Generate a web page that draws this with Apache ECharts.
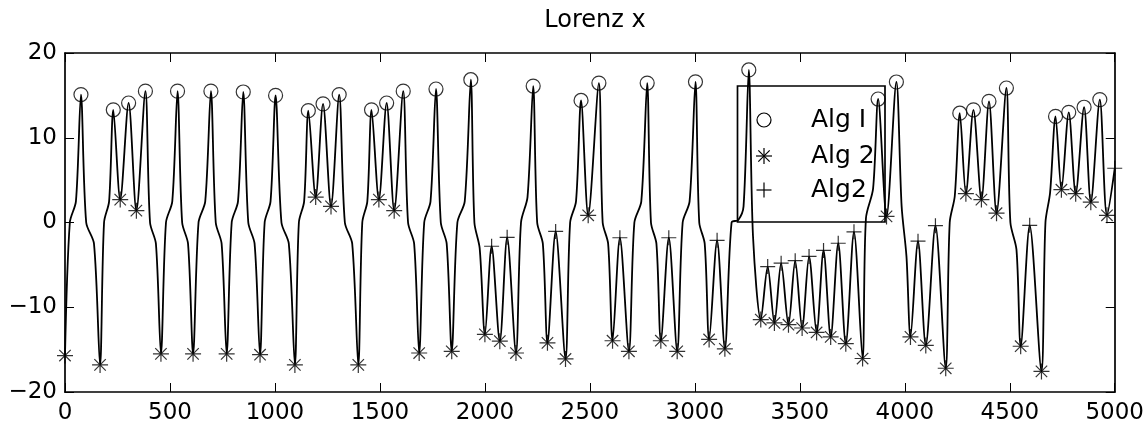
<!DOCTYPE html>
<html>
<head>
<meta charset="utf-8">
<script src="https://cdn.jsdelivr.net/npm/echarts@6/dist/echarts.min.js"></script>
<style>
html,body{margin:0;padding:0;background:#fff;}
#c{width:1147px;height:429px;}
</style>
</head>
<body>
<div id="c"></div>
<script>
// ---- data ----
const titleText = 'Lorenz x';
const xTicks = [0, 500, 1000, 1500, 2000, 2500, 3000, 3500, 4000, 4500, 5000];
const yTicks = [-20, -10, 0, 10, 20];
const legendNames = ['Alg I', 'Alg 2', 'Alg2'];

// local maxima marked with circles (Alg I)
const alg1 = [[76,15.1],[230,13.3],[303,14.1],[383,15.5],[536,15.5],[695,15.5],[849,15.4],[1003,15.0],
  [1159,13.2],[1229,14.0],[1306,15.1],[1460,13.3],[1532,14.1],[1611,15.5],[1767,15.75],[1933,16.85],
  [2230,16.1],[2458,14.4],[2543,16.45],[2773,16.45],[3003,16.6],[3257,18.0],[3873,14.57],[3960,16.58],
  [4262,12.9],[4327,13.3],[4401,14.3],[4484,15.87],[4718,12.52],[4781,13.0],[4854,13.6],[4929,14.5]];

// local minima marked with asterisks (Alg 2)
const alg2 = [[0,-15.7],[167,-16.8],[263,2.7],[340,1.4],[457,-15.5],[610,-15.5],[770,-15.5],[929,-15.6],
  [1095,-16.8],[1194,3.0],[1267,1.9],[1397,-16.8],[1495,2.7],[1568,1.4],[1687,-15.4],[1842,-15.2],
  [2000,-13.2],[2071,-14.0],[2148,-15.4],[2298,-14.2],[2384,-16.1],[2492,0.85],[2608,-13.95],[2686,-15.2],
  [2838,-13.95],[2916,-15.2],[3068,-13.8],[3143,-14.9],[3314,-11.45],[3379,-11.85],[3446,-12.06],[3511,-12.45],
  [3580,-12.97],[3647,-13.5],[3719,-14.3],[3799,-16.05],[3913,0.72],[4027,-13.5],[4100,-14.5],[4195,-17.2],
  [4291,3.4],[4365,2.7],[4437,1.1],[4552,-14.6],[4651,-17.57],[4746,3.87],[4814,3.4],[4886,2.4],[4963,0.85]];

// local maxima marked with plus signs (Alg2)
const alg2b = [[2032,-2.8],[2106,-1.75],[2337,-1.05],[2643,-1.8],[2876,-1.8],[3106,-2.1],[3347,-5.2],
  [3411,-4.8],[3478,-4.5],[3544,-4.0],[3613,-3.3],[3683,-2.45],[3758,-1.1],[4063,-2.2],[4146,-0.38],
  [4595,-0.33],[5000,6.4]];

// intermediate points of the curve (shoulders near zero between the spikes)
const shoulders = [[23,0],[52,2.5],[101,0],[138,-2.5],[186,0],[210,2.5],[405,0],[433,-2.5],[481,0],[511,2.5],
  [558,0],[586,-2.5],[636,0],[668,2.5],[718,0],[746,-2.5],[794,0],[824,2.5],[873,0],[903,-2.5],
  [951,0],[979,2.5],[1031,0],[1066,-2.5],[1114,0],[1139,2.5],[1333,0],[1368,-2.5],[1416,0],[1440,2.5],
  [1634,0],[1663,-2.5],[1711,0],[1741,2.5],[1790,0],[1818,-2.5],[1869,0],[1904,2.5],[1950,0],[1975,-3],
  [2172,0],[2203,3],[2249,0],[2276,-2.5],[2406,0],[2434,2.5],[2561,0],[2587,-2.5],[2712,0],[2745,2.5],
  [2791,0],[2817,-2.5],[2942,0],[2975,2.5],[3021,0],[3047,-2.5],[3175,0],[3207,0.3],[3232,1.9],[3277,-1.6],
  [3815,0.5],[3849,4],[3985,1.9],[4008,-4],[4214,0],[4238,3.1],[4503,0],[4532,-3.2],[4670,0],[4692,3.5]];

// ---- build ----
const curve = alg1.concat(alg2, alg2b, shoulders).slice().sort((a, b) => a[0] - b[0]);

const FONT = 'DejaVu Sans';
const starPath = 'path://M0,7L14,7M7,0L7,14M2,2L12,12M12,2L2,12';
const plusPath = 'path://M0,7L14,7M7,0L7,14';
const markStyle = { color: 'rgba(0,0,0,0)', borderColor: '#000', borderWidth: 1.2 };
const minus = v => String(v).replace('-', '\u2212');

const axisCommon = {
  axisLine: { show: true, onZero: false, lineStyle: { color: '#000', width: 1.7 } },
  axisTick: { show: true, inside: true, length: 9, lineStyle: { color: '#000', width: 1 } },
  splitLine: { show: false }
};

const chart = echarts.init(document.getElementById('c'), null, { renderer: 'canvas' });
chart.setOption({
  animation: false,
  backgroundColor: '#fff',
  title: {
    text: titleText, left: 590, top: 4, textAlign: 'center',
    textStyle: { fontFamily: FONT, fontSize: 24, fontWeight: 'normal', color: '#000' }
  },
  grid: { left: 65, top: 53, width: 1050, height: 339, containLabel: false },
  xAxis: [
    Object.assign({ type: 'value', position: 'bottom', min: xTicks[0], max: xTicks[xTicks.length - 1],
      interval: xTicks[1] - xTicks[0],
      axisLabel: { show: true, margin: 10, color: '#000', fontFamily: FONT, fontSize: 23, formatter: minus } }, axisCommon),
    Object.assign({ type: 'value', position: 'top', min: xTicks[0], max: xTicks[xTicks.length - 1],
      interval: xTicks[1] - xTicks[0], axisLabel: { show: false } }, axisCommon)
  ],
  yAxis: [
    Object.assign({ type: 'value', position: 'left', min: yTicks[0], max: yTicks[yTicks.length - 1],
      interval: yTicks[1] - yTicks[0],
      axisLabel: { show: true, margin: 8, color: '#000', fontFamily: FONT, fontSize: 23, formatter: minus } }, axisCommon),
    Object.assign({ type: 'value', position: 'right', min: yTicks[0], max: yTicks[yTicks.length - 1],
      interval: yTicks[1] - yTicks[0], axisLabel: { show: false } }, axisCommon)
  ],
  series: [
    { type: 'line', data: curve, showSymbol: false, smooth: 0.3, silent: true, z: 2,
      lineStyle: { color: '#000', width: 1.8 } },
    { name: legendNames[0], type: 'scatter', data: alg1, symbol: 'circle', symbolSize: 14, itemStyle: markStyle, z: 3, clip: false },
    { name: legendNames[1], type: 'scatter', data: alg2, symbol: starPath, symbolSize: 16, itemStyle: markStyle, z: 3, clip: false },
    { name: legendNames[2], type: 'scatter', data: alg2b, symbol: plusPath, symbolSize: 15, itemStyle: markStyle, z: 3, clip: false }
  ],
  graphic: [
    { type: 'rect', shape: { x: 737.5, y: 86, width: 147.5, height: 136 },
      style: { fill: 'rgba(0,0,0,0)', stroke: '#000', lineWidth: 1.7 }, z: 1 },
    { type: 'circle', shape: { cx: 764, cy: 120, r: 7 }, style: { fill: 'rgba(0,0,0,0)', stroke: '#000', lineWidth: 1.2 }, z: 1 },
    { type: 'line', shape: { x1: 756, y1: 156, x2: 772, y2: 156 }, style: { stroke: '#000', lineWidth: 1.2 }, z: 1 },
    { type: 'line', shape: { x1: 764, y1: 148, x2: 764, y2: 164 }, style: { stroke: '#000', lineWidth: 1.2 }, z: 1 },
    { type: 'line', shape: { x1: 758.3, y1: 150.3, x2: 769.7, y2: 161.7 }, style: { stroke: '#000', lineWidth: 1.2 }, z: 1 },
    { type: 'line', shape: { x1: 769.7, y1: 150.3, x2: 758.3, y2: 161.7 }, style: { stroke: '#000', lineWidth: 1.2 }, z: 1 },
    { type: 'line', shape: { x1: 756.5, y1: 190, x2: 771.5, y2: 190 }, style: { stroke: '#000', lineWidth: 1.2 }, z: 1 },
    { type: 'line', shape: { x1: 764, y1: 182.5, x2: 764, y2: 197.5 }, style: { stroke: '#000', lineWidth: 1.2 }, z: 1 },
    { type: 'text', x: 811, y: 120, style: { text: legendNames[0], fill: '#000', font: '25px "DejaVu Sans"', textVerticalAlign: 'middle', verticalAlign: 'middle' }, z: 1 },
    { type: 'text', x: 811, y: 156, style: { text: legendNames[1], fill: '#000', font: '25px "DejaVu Sans"', textVerticalAlign: 'middle', verticalAlign: 'middle' }, z: 1 },
    { type: 'text', x: 811, y: 190, style: { text: legendNames[2], fill: '#000', font: '25px "DejaVu Sans"', textVerticalAlign: 'middle', verticalAlign: 'middle' }, z: 1 }
  ]
});
</script>
</body>
</html>
